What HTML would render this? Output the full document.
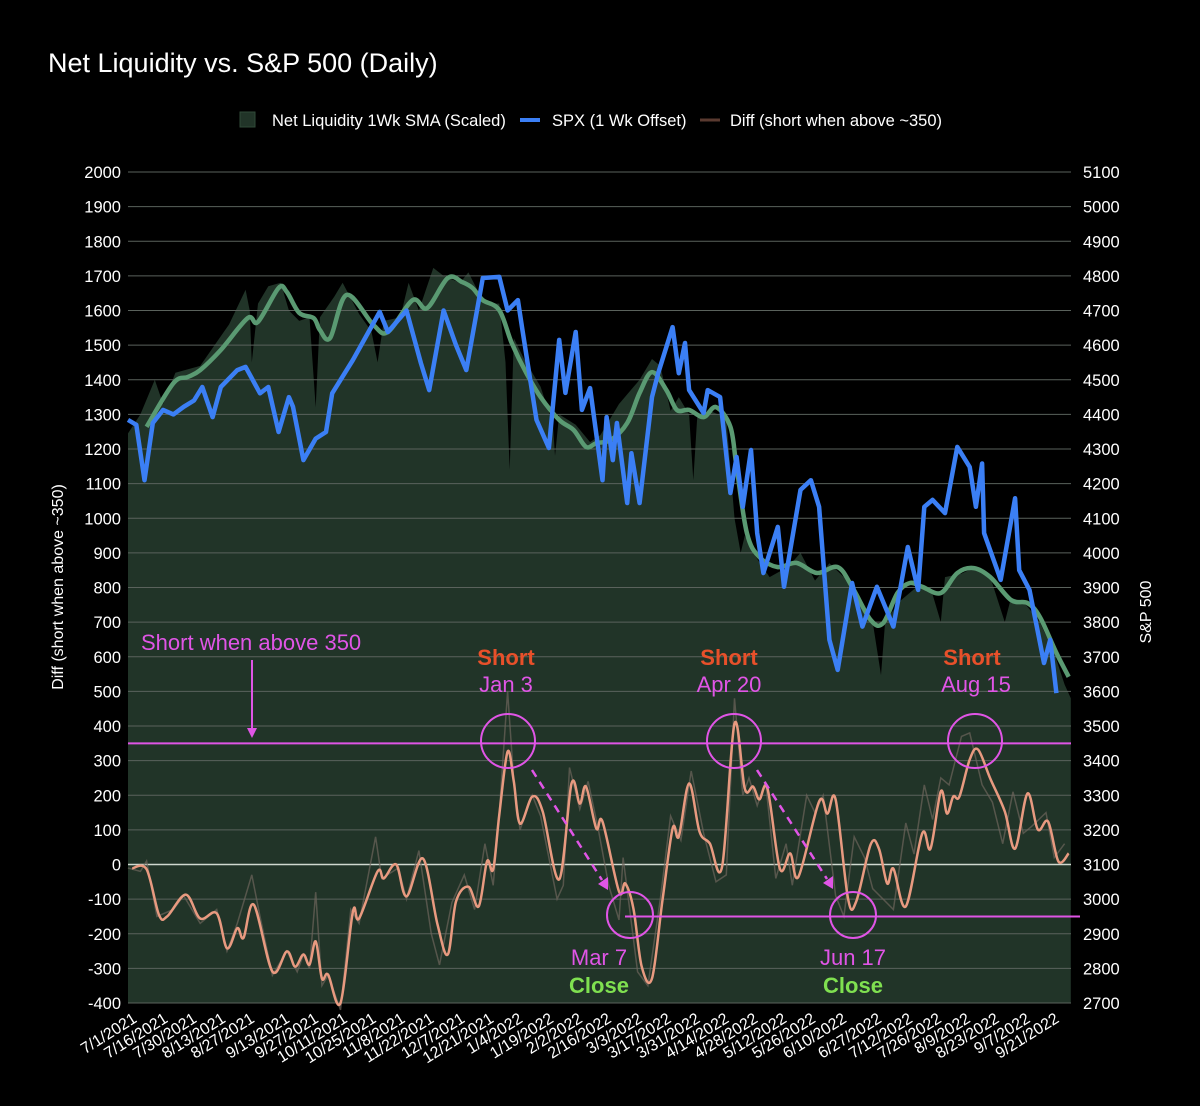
<!DOCTYPE html>
<html><head><meta charset="utf-8"><style>
html,body{margin:0;padding:0;background:#000;}
svg{display:block;font-family:"Liberation Sans",Arial,sans-serif;}
</style></head><body>
<svg id="chart" width="1200" height="1106" viewBox="0 0 1200 1106">
<rect width="1200" height="1106" fill="#000"/>
<text x="48" y="72" fill="#fff" font-size="27">Net Liquidity vs. S&amp;P 500 (Daily)</text>
<g font-size="16.5" fill="#fff">
 <g><rect x="240" y="112" width="15" height="15" fill="#213428" stroke="#2f4a38"/><text x="272" y="126">Net Liquidity 1Wk SMA (Scaled)</text></g>
 <g><line x1="520" y1="120" x2="540" y2="120" stroke="#3b7ff5" stroke-width="4"/><text x="552" y="126">SPX (1 Wk Offset)</text></g>
 <g><line x1="700" y1="120" x2="720" y2="120" stroke="#5a3a30" stroke-width="3"/><text x="730" y="126">Diff (short when above ~350)</text></g>
</g>
<g id="grid"></g>
<g id="plot"></g>
<g id="yl" font-size="16.5" fill="#fff" text-anchor="end"></g>
<g id="yr" font-size="16.5" fill="#fff"></g>
<g id="xl" font-size="16" fill="#fff" text-anchor="end"></g>
<text transform="translate(63,587) rotate(-90)" text-anchor="middle" fill="#fff" font-size="16">Diff (short when above ~350)</text>
<text transform="translate(1151,612) rotate(-90)" text-anchor="middle" fill="#fff" font-size="16">S&amp;P 500</text>
<g id="ann"></g>
</svg>
<script>
// ---- data ----
const baseDate = "2021-07-01";
const xTickLabels = ["7/1/2021","7/16/2021","7/30/2021","8/13/2021","8/27/2021","9/13/2021","9/27/2021","10/11/2021","10/25/2021","11/8/2021","11/22/2021","12/7/2021","12/21/2021","1/4/2022","1/19/2022","2/2/2022","2/16/2022","3/3/2022","3/17/2022","3/31/2022","4/14/2022","4/28/2022","5/12/2022","5/26/2022","6/10/2022","6/27/2022","7/12/2022","7/26/2022","8/9/2022","8/23/2022","9/7/2022","9/21/2022"];
const leftTicks = [2000,1900,1800,1700,1600,1500,1400,1300,1200,1100,1000,900,800,700,600,500,400,300,200,100,0,-100,-200,-300,-400];
const rightTicks = [5100,5000,4900,4800,4700,4600,4500,4400,4300,4200,4100,4000,3900,3800,3700,3600,3500,3400,3300,3200,3100,3000,2900,2800,2700];
// days since baseDate
const spxDays = [0,4,8,12,17,22,27,32,36,41,45,53,57,64,68,73,78,80,85,91,96,99,109,122,126,135,142,146,153,159,164,172,180,184,189,191,198,204,209,212,217,220,224,230,232,235,237,242,244,248,254,257,264,267,270,272,279,281,287,292,295,298,302,305,308,315,318,326,331,335,340,344,351,356,363,371,378,383,386,390,396,402,408,411,414,415,423,430,432,437,444,447,450];
const spxValues = [4384,4370,4210,4375,4413,4400,4422,4440,4479,4392,4479,4528,4537,4461,4479,4349,4450,4422,4268,4330,4349,4461,4557,4696,4638,4700,4548,4470,4700,4600,4528,4794,4797,4700,4730,4652,4384,4303,4615,4462,4638,4413,4476,4210,4392,4268,4375,4144,4288,4144,4450,4519,4652,4519,4606,4470,4404,4470,4450,4173,4277,4133,4297,4057,3942,4075,3902,4182,4210,4133,3749,3662,3913,3787,3902,3787,4017,3893,4133,4153,4115,4306,4248,4133,4258,4057,3922,4158,3950,3893,3682,3749,3595];
const smaDays = [9,22,29,35,45,58,63,73,77,83,90,93,98,106,119,126,138,145,155,162,167,172,180,186,193,200,209,216,222,227,234,242,248,254,261,266,272,279,285,292,295,300,306,315,324,334,344,351,360,366,373,379,385,394,402,410,418,428,436,442,450,456];
const smaValues = [1264,1390,1408,1428,1486,1578,1567,1665,1653,1593,1578,1544,1521,1645,1558,1538,1630,1607,1694,1682,1665,1630,1601,1506,1420,1350,1284,1255,1206,1217,1226,1275,1362,1422,1370,1313,1313,1292,1321,1264,1148,957,888,859,871,842,859,802,706,697,784,813,802,784,842,856,830,764,755,715,611,542];
const liqDays = [0,6,13,17,23,35,42,49,57,59,60,63,68,74,78,83,88,91,93,100,104,112,118,121,124,132,136,141,148,153,161,165,171,175,180,183,185,187,192,200,206,207,209,217,224,229,238,248,254,258,263,267,272,274,276,282,290,294,297,299,303,311,320,326,333,340,347,354,361,365,367,374,382,389,394,396,404,411,418,425,428,434,442,449,454,457];
const liqValues = [1245,1300,1400,1330,1420,1440,1500,1560,1660,1600,1450,1620,1670,1680,1600,1570,1580,1320,1580,1640,1680,1590,1540,1450,1570,1580,1680,1600,1723,1700,1680,1710,1640,1620,1620,1450,1140,1520,1460,1380,1270,1180,1300,1270,1220,1240,1330,1400,1460,1440,1310,1350,1300,1110,1300,1310,1290,1000,900,950,900,830,860,900,820,870,830,760,700,547,700,760,800,800,700,830,840,860,830,700,770,760,700,610,520,480];
const diffDays = [2,9,15,19,28,35,43,48,53,56,61,70,77,81,85,88,91,94,97,103,109,112,121,124,130,135,143,150,155,159,165,170,174,177,180,184,187,190,196,201,209,215,219,222,227,230,238,241,245,249,254,259,264,267,272,277,282,288,294,299,303,306,310,316,321,325,335,339,343,349,353,360,364,368,371,377,385,389,394,397,400,403,408,412,418,425,430,436,441,446,451,456];
const diffValues = [-11,-14,-145,-150,-87,-156,-141,-242,-184,-212,-116,-309,-251,-295,-260,-289,-222,-329,-318,-400,-136,-156,-20,-40,0,-92,17,-173,-260,-107,-64,-121,9,-14,144,326,240,118,196,153,-43,234,176,225,104,124,-78,-55,-127,-295,-329,-107,104,81,234,95,61,-6,407,219,225,188,219,-12,32,-35,182,147,188,-98,-107,58,46,-55,-12,-121,90,46,211,147,196,196,303,332,248,153,46,205,101,124,9,32];
const rawDiffDays = [0,6,9,14,22,27,35,43,48,53,60,64,70,77,82,85,88,91,94,97,103,108,112,120,123,131,135,141,147,151,157,163,168,173,177,180,184,187,190,196,200,208,211,214,219,223,228,233,238,240,247,252,258,263,268,273,279,285,290,294,298,301,305,309,314,319,322,329,333,337,343,347,352,357,361,366,371,377,381,386,390,394,398,404,408,414,419,424,429,434,438,445,449,454];
const rawDiffValues = [-10,-20,10,-150,-130,-90,-170,-130,-250,-170,-30,-150,-320,-250,-310,-260,-300,-80,-350,-320,-420,-130,-170,80,-40,-10,-100,40,-200,-290,-110,-30,-130,60,-60,150,500,240,100,200,140,-100,-60,280,160,240,100,-60,-160,20,-310,-350,-100,140,70,270,90,-50,-30,480,200,250,170,240,-40,60,-60,200,150,200,-90,-150,80,20,-70,-100,-130,120,30,230,130,250,230,370,380,230,180,60,210,90,110,150,20,60];
const shortLevel = 350;
const closeLevel = -150;

// ---- scales ----
const X0=128, X1=1071, Y0=172, Y1=1003, DMAX=457.1, VMAX=2000, VMIN=-400, OFFSET=3100;
const xs = d => X0 + (d/DMAX)*(X1-X0);
const ys = v => Y0 + (VMAX-v)/(VMAX-VMIN)*(Y1-Y0);
const ysR = v => ys(v-OFFSET);
const dayOf = s => { const [m,d,y]=s.split('/').map(Number); return Math.round((Date.UTC(y,m-1,d)-Date.parse(baseDate+"T00:00:00Z"))/864e5); };
const NS="http://www.w3.org/2000/svg";
function mk(tag,attrs,parent){const e=document.createElementNS(NS,tag);for(const k in attrs)e.setAttribute(k,attrs[k]);parent.appendChild(e);return e;}
function linePath(px,py){return px.map((x,i)=>(i?'L':'M')+x.toFixed(1)+','+py[i].toFixed(1)).join('');}
function smoothPath(px,py){let d='M'+px[0]+','+py[0];for(let i=0;i<px.length-1;i++){const x0=px[i-1]??px[i],y0=py[i-1]??py[i],x3=px[i+2]??px[i+1],y3=py[i+2]??py[i+1];const c1x=px[i]+(px[i+1]-x0)/6,c1y=py[i]+(py[i+1]-y0)/6,c2x=px[i+1]-(x3-px[i])/6,c2y=py[i+1]-(y3-py[i])/6;d+=`C${c1x.toFixed(1)},${c1y.toFixed(1)} ${c2x.toFixed(1)},${c2y.toFixed(1)} ${px[i+1].toFixed(1)},${py[i+1].toFixed(1)}`;}return d;}

const plot=document.getElementById('plot');
const lx=liqDays.map(xs), ly=liqValues.map(ys);
const area=mk('path',{d:linePath(lx,ly)+`L${lx[lx.length-1]},${Y1}L${lx[0]},${Y1}Z`,fill:'#213428'},plot);


leftTicks.forEach(v=>{
 const g=mk('line',{x1:X0,x2:X1,y1:ys(v),y2:ys(v),stroke:v===0?'#cfd8cf':'#5a625c','stroke-width':v===0?1.5:1},plot);
 
 
 const t=mk('text',{x:121,y:ys(v)+6},document.getElementById('yl')); t.textContent=v;
 
 
});
rightTicks.forEach(v=>{
 const t=mk('text',{x:1083,y:ysR(v)+6},document.getElementById('yr')); t.textContent=v;
 
 
});
xTickLabels.forEach(s=>{
 const x=xs(dayOf(s));
 const t=mk('text',{transform:`translate(${x+4},${1012}) rotate(-32)`,y:11},document.getElementById('xl')); t.textContent=s;
 
 
});
const rd=mk('path',{d:linePath(rawDiffDays.map(xs),rawDiffValues.map(ys)),fill:'none',stroke:'#6e655b','stroke-width':1.5,opacity:0.7},plot);


const sm=mk('path',{d:smoothPath(smaDays.map(xs),smaValues.map(ys)),fill:'none',stroke:'#5a9a72','stroke-width':4.5,'stroke-linejoin':'round'},plot);


const sp=mk('path',{d:linePath(spxDays.map(xs),spxValues.map(ysR)),fill:'none',stroke:'#3b7ff5','stroke-width':4.5,'stroke-linejoin':'round'},plot);


const df=mk('path',{d:smoothPath(diffDays.map(xs),diffValues.map(ys)),fill:'none',stroke:'#e89a80','stroke-width':2.5,'stroke-linejoin':'round'},plot);



const ann=document.getElementById('ann'), MAG='#e055e6';
const l1=mk('line',{x1:X0,x2:X1,y1:ys(shortLevel),y2:ys(shortLevel),stroke:MAG,'stroke-width':2},ann);


const l2=mk('line',{x1:625,x2:1080,y1:ys(closeLevel),y2:ys(closeLevel),stroke:MAG,'stroke-width':2},ann);


ann.insertAdjacentHTML('beforeend',`
<text x="141" y="650" fill="${MAG}" font-size="22">Short when above 350</text>
<line x1="252" y1="660" x2="252" y2="730" stroke="${MAG}" stroke-width="2"/>
<path d="M247,728 L257,728 L252,738Z" fill="${MAG}"/>
<circle cx="508" cy="741" r="27" fill="none" stroke="${MAG}" stroke-width="2"/>
<circle cx="734" cy="741" r="27" fill="none" stroke="${MAG}" stroke-width="2"/>
<circle cx="975" cy="741" r="27" fill="none" stroke="${MAG}" stroke-width="2"/>
<circle cx="630" cy="915" r="23" fill="none" stroke="${MAG}" stroke-width="2"/>
<circle cx="853" cy="915" r="23" fill="none" stroke="${MAG}" stroke-width="2"/>
<line x1="532" y1="770" x2="602" y2="880" stroke="${MAG}" stroke-width="2.5" stroke-dasharray="8,6"/>
<path d="M598,884 L608,877 L608,890Z" fill="${MAG}"/>
<line x1="757" y1="770" x2="827" y2="879" stroke="${MAG}" stroke-width="2.5" stroke-dasharray="8,6"/>
<path d="M823,883 L833,876 L833,889Z" fill="${MAG}"/>
<g text-anchor="middle" font-size="22">
<text x="506" y="665" fill="#e8502a" font-weight="bold">Short</text>
<text x="506" y="692" fill="${MAG}">Jan 3</text>
<text x="729" y="665" fill="#e8502a" font-weight="bold">Short</text>
<text x="729" y="692" fill="${MAG}">Apr 20</text>
<text x="972" y="665" fill="#e8502a" font-weight="bold">Short</text>
<text x="976" y="692" fill="${MAG}">Aug 15</text>
<text x="599" y="965" fill="${MAG}">Mar 7</text>
<text x="599" y="993" fill="#7fe050" font-weight="bold">Close</text>
<text x="853" y="965" fill="${MAG}">Jun 17</text>
<text x="853" y="993" fill="#7fe050" font-weight="bold">Close</text>
</g>`);
</script>
</body></html>
